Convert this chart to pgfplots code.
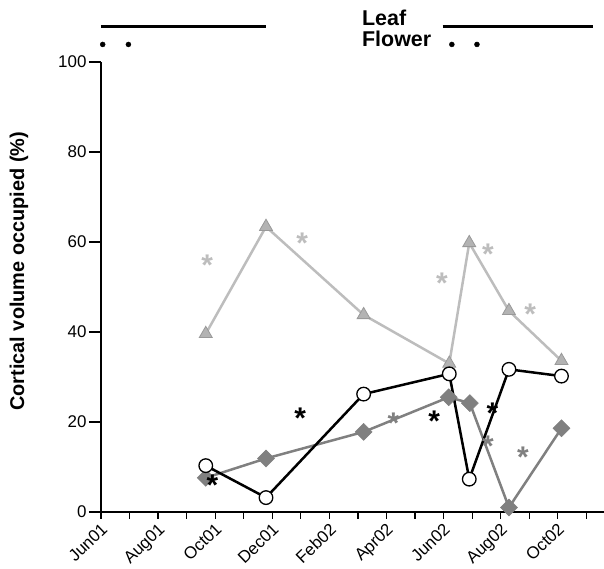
\documentclass[border=0pt]{standalone}
\usepackage{fontspec}
\setmainfont{Liberation Sans}
\usepackage{pgfplots}
\pgfplotsset{compat=1.18}
\definecolor{lgray}{HTML}{BDBDBD}
\definecolor{trifill}{HTML}{B3B3B3}
\definecolor{triedge}{HTML}{999999}
\definecolor{dgray}{HTML}{808080}
\newcommand{\myast}[1]{\textcolor{#1}{\smash{\raisebox{-14.5pt}{\fontsize{30}{32}\selectfont\bfseries *}}}}
\begin{document}
\begin{tikzpicture}
\useasboundingbox (-101bp,-57bp) rectangle (503bp,512bp);
\begin{axis}[
  scale only axis, width=503bp, height=450bp,
  xmin=0, xmax=17.62, ymin=0, ymax=100,
  axis x line*=bottom, axis y line*=left,
  axis line style={line width=1.2bp, -},
  x axis line style={shorten <=-8bp},
  tick style={line width=1.2bp, black},
  tick align=outside,
  major tick length=7bp, minor tick length=7bp,
  y tick style={/pgfplots/major tick length=12bp},
  xtick={0,2,...,16},
  minor xtick={1,3,...,17},
  xticklabels={Jun01,Aug01,Oct01,Dec01,Feb02,Apr02,Jun02,Aug02,Oct02},
  x tick label style={rotate=44, anchor=north east, inner sep=0.5bp, yshift=-1bp, xshift=-2bp, font=\fontsize{17}{19}\selectfont},
  ytick={0,20,...,100},
  y tick label style={font=\fontsize{17}{19}\selectfont, xshift=-4bp},
  /pgf/number format/assume math mode=true,
  ylabel={\bfseries Cortical volume occupied (\%)},
  every axis y label/.style={at={(axis description cs:0,0.535)}, xshift=-82bp, rotate=90, anchor=center, font=\fontsize{20}{22}\selectfont},
  clip=false,
]
% phenology bars and dots
\addplot[black, line width=2.5bp, mark=none] coordinates {(0,107.9)(5.78,107.9)};
\addplot[black, line width=2.5bp, mark=none] coordinates {(11.97,107.9)(17.23,107.9)};
\addplot[only marks, mark=*, mark size=2.5bp, black] coordinates {(0.06,103.9)(0.96,103.9)(12.29,103.9)(13.17,103.9)};
\node[anchor=base west, font=\fontsize{21.5}{23}\selectfont\bfseries, inner sep=0pt] at (axis cs:9.14,108) {Leaf};
\node[anchor=base west, font=\fontsize{21.5}{23}\selectfont\bfseries, inner sep=0pt] at (axis cs:9.14,103.4) {Flower};
% triangles
\addplot[color=lgray, line width=2.5bp, mark=triangle*, mark size=7.5bp,
  mark options={fill=trifill, draw=triedge, line width=0.8bp}]
  coordinates {(3.67,39.6)(5.78,63.4)(9.20,43.8)(12.20,33.0)(12.90,59.8)(14.29,44.7)(16.13,33.6)};
% diamonds
\addplot[color=dgray, line width=2.5bp, mark=square*, mark size=6bp,
  mark options={fill=dgray, draw=dgray, rotate=45, line width=0.5bp}]
  coordinates {(3.67,7.6)(5.78,11.9)(9.20,17.8)(12.18,25.5)(12.92,24.2)(14.29,1.0)(16.13,18.6)};
% circles
\addplot[color=black, line width=2.5bp, mark=*, mark size=6.8bp,
  mark options={fill=white, draw=black, line width=1.3bp}]
  coordinates {(3.67,10.3)(5.78,3.2)(9.20,26.2)(12.20,30.7)(12.90,7.3)(14.29,31.7)(16.13,30.2)};
% asterisks
\addplot[only marks, mark=text, text mark={\myast{lgray}}]
  coordinates {(3.72,55.8)(7.05,60.6)(11.94,51.8)(13.55,58.1)(15.03,44.9)};
\addplot[only marks, mark=text, text mark={\myast{black}}]
  coordinates {(3.90,6.9)(6.98,21.7)(11.67,21.2)(13.71,22.8)};
\addplot[only marks, mark=text, text mark={\myast{dgray}}]
  coordinates {(10.24,20.6)(13.55,15.6)(14.78,13.0)};
\end{axis}
\end{tikzpicture}
\end{document}
